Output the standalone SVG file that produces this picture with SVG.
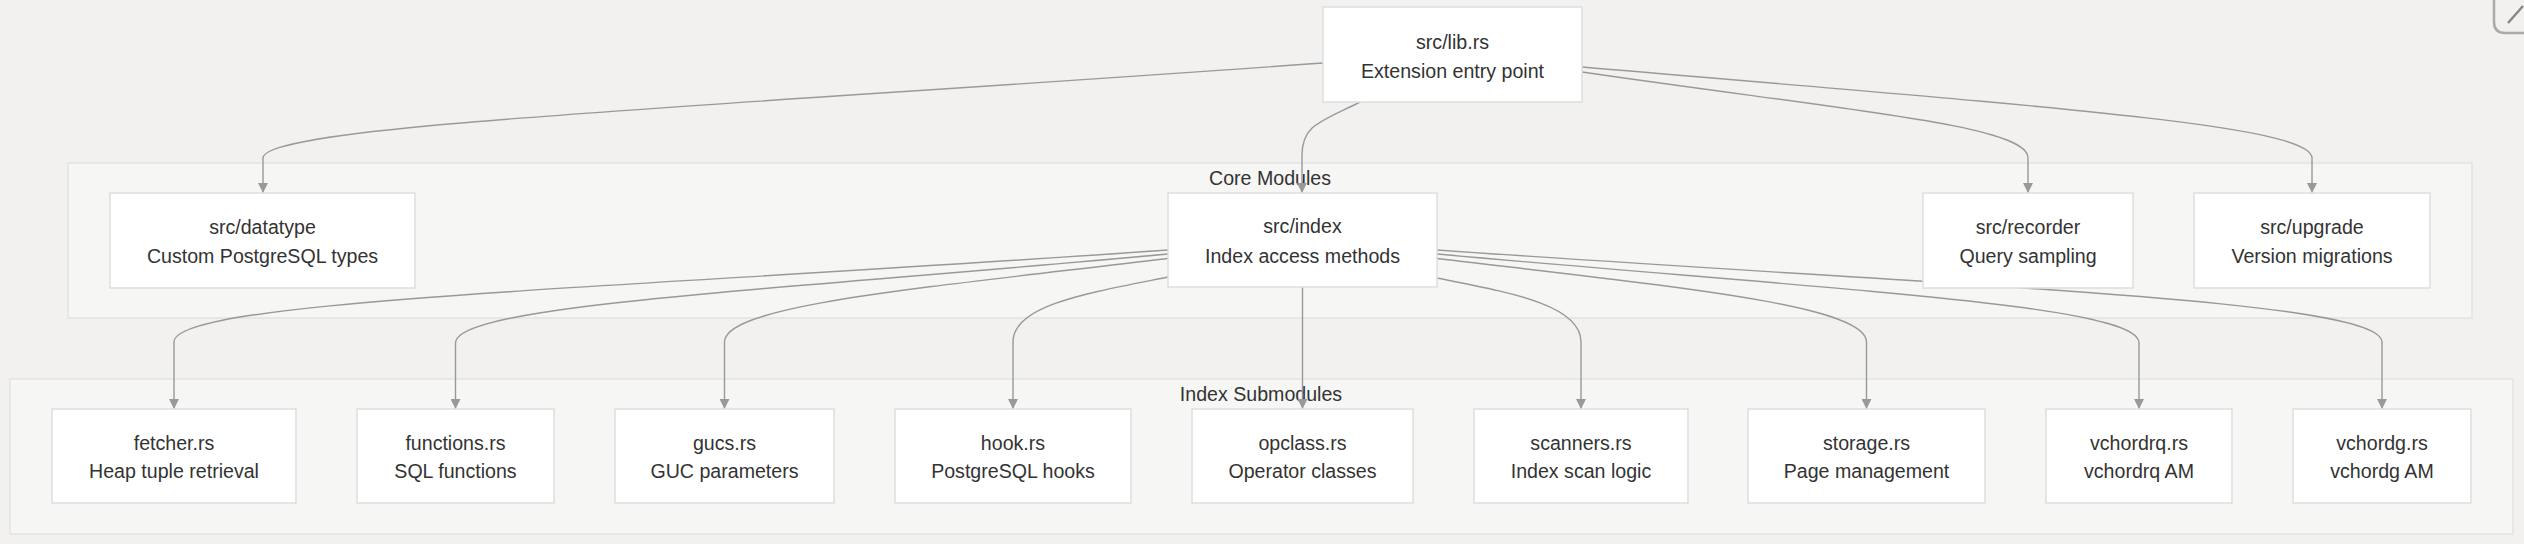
<svg xmlns="http://www.w3.org/2000/svg" width="2524" height="544" viewBox="0 0 2524 544">
<defs>
<marker id="arr" viewBox="0 0 10 10" refX="10" refY="5" markerWidth="10" markerHeight="10" markerUnits="userSpaceOnUse" orient="auto">
<path d="M0,0 L10,5 L0,10 z" fill="#999"/>
</marker>
<style>
.bg{fill:#f2f1ef}
.cluster{fill:#f6f6f5;stroke:#e2e2e2;stroke-width:1.5}
.node rect{fill:#ffffff;stroke:#dedede;stroke-width:1.5}
text{font-family:"Liberation Sans",Arial,sans-serif;font-size:19.6px;fill:#333;text-anchor:middle}
.edge{fill:none;stroke:#999;stroke-width:1.4;marker-end:url(#arr)}
</style>
</defs>
<rect class="bg" x="0" y="0" width="2524" height="544"/>
<g id="cluster-core">
<rect class="cluster" x="68" y="163" width="2404" height="155"/>
<text x="1270" y="185">Core Modules</text>
</g>
<g id="cluster-sub">
<rect class="cluster" x="10" y="379" width="2503" height="155"/>
<text x="1261" y="401">Index Submodules</text>
</g>
<g id="connectors">
<path class="edge" d="M1323,63 C700,108 263,125 263,158 L263,193"/>
<path class="edge" d="M1360,102 C1320,122 1302,125 1302,155 L1302,193"/>
<path class="edge" d="M1582,72 C1850,111 2028,125 2028,158 L2028,193"/>
<path class="edge" d="M1582,67 C2050,107 2312,125 2312,158 L2312,193"/>
<path class="edge" d="M1168,250 C600,290 174,300 174,342 L174,409"/>
<path class="edge" d="M1168,254 C760,291.5 455.5,305 455.5,343 L455.5,409"/>
<path class="edge" d="M1168,258.5 C918,288.5 724.5,305 724.5,342 L724.5,409"/>
<path class="edge" d="M1168,277 C1088,293 1013,305 1013,342 L1013,409"/>
<path class="edge" d="M1302.5,287 L1302.5,409"/>
<path class="edge" d="M1437,278 C1512,293 1581,305 1581,342 L1581,409"/>
<path class="edge" d="M1437,258.5 C1677,287 1866.5,305 1866.5,342 L1866.5,409"/>
<path class="edge" d="M1437,254 C1847,291 2139,305 2139,343 L2139,409"/>
<path class="edge" d="M1437,250 C1982,288 2382,300 2382,342 L2382,409"/>
</g>
<g id="lib" class="node"><rect x="1323" y="7" width="259" height="95"/><text x="1452.5" y="49">src/lib.rs</text><text x="1452.5" y="77.5">Extension entry point</text></g>
<g id="datatype" class="node"><rect x="110" y="193" width="305" height="95"/><text x="262.5" y="233.5">src/datatype</text><text x="262.5" y="263">Custom PostgreSQL types</text></g>
<g id="index" class="node"><rect x="1168" y="193" width="269" height="94"/><text x="1302.5" y="233">src/index</text><text x="1302.5" y="263">Index access methods</text></g>
<g id="recorder" class="node"><rect x="1923" y="193" width="210" height="95"/><text x="2028" y="233.5">src/recorder</text><text x="2028" y="263">Query sampling</text></g>
<g id="upgrade" class="node"><rect x="2194" y="193" width="236" height="95"/><text x="2312" y="233.5">src/upgrade</text><text x="2312" y="263">Version migrations</text></g>
<g id="fetcher" class="node"><rect x="52" y="409" width="244" height="94"/><text x="174" y="449.5">fetcher.rs</text><text x="174" y="478">Heap tuple retrieval</text></g>
<g id="functions" class="node"><rect x="357" y="409" width="197" height="94"/><text x="455.5" y="449.5">functions.rs</text><text x="455.5" y="478">SQL functions</text></g>
<g id="gucs" class="node"><rect x="615" y="409" width="219" height="94"/><text x="724.5" y="449.5">gucs.rs</text><text x="724.5" y="478">GUC parameters</text></g>
<g id="hook" class="node"><rect x="895" y="409" width="236" height="94"/><text x="1013" y="449.5">hook.rs</text><text x="1013" y="478">PostgreSQL hooks</text></g>
<g id="opclass" class="node"><rect x="1192" y="409" width="221" height="94"/><text x="1302.5" y="449.5">opclass.rs</text><text x="1302.5" y="478">Operator classes</text></g>
<g id="scanners" class="node"><rect x="1474" y="409" width="214" height="94"/><text x="1581" y="449.5">scanners.rs</text><text x="1581" y="478">Index scan logic</text></g>
<g id="storage" class="node"><rect x="1748" y="409" width="237" height="94"/><text x="1866.5" y="449.5">storage.rs</text><text x="1866.5" y="478">Page management</text></g>
<g id="vchordrq" class="node"><rect x="2046" y="409" width="186" height="94"/><text x="2139" y="449.5">vchordrq.rs</text><text x="2139" y="478">vchordrq AM</text></g>
<g id="vchordg" class="node"><rect x="2293" y="409" width="178" height="94"/><text x="2382" y="449.5">vchordg.rs</text><text x="2382" y="478">vchordg AM</text></g>
<path d="M2494,-10 L2494,22 Q2494,33 2505,33 L2530,33" fill="none" stroke="#aaa" stroke-width="2.5"/>
<path d="M2508,23 L2523,6" fill="none" stroke="#888" stroke-width="2.5"/>
</svg>
